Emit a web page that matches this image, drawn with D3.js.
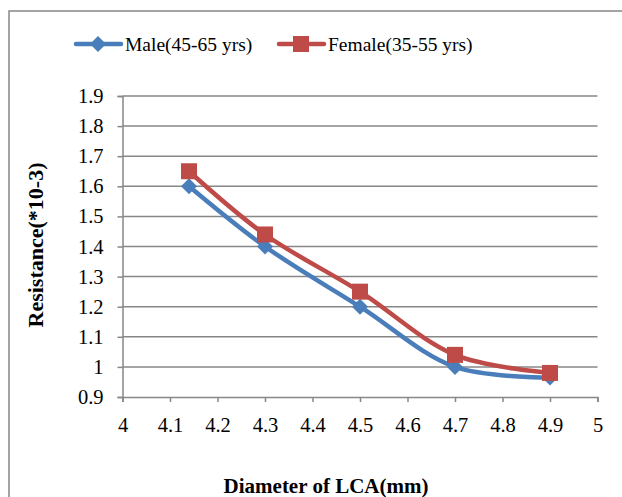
<!DOCTYPE html>
<html>
<head>
<meta charset="utf-8">
<script src="https://cdn.jsdelivr.net/npm/d3@7"></script>
<style>
  body { margin: 0; background: #fff; }
  svg text { font-family: "Liberation Serif", "DejaVu Serif", serif; fill: #000; }
</style>
</head>
<body>
<div id="demo"></div>
<script>
// data
var diameters = [4.14, 4.3, 4.5, 4.7, 4.9];
var maleValues = [1.6, 1.4, 1.2, 1.0, 0.965];
var femaleValues = [1.65, 1.44, 1.25, 1.04, 0.98];
var seriesNames = ['Male(45-65 yrs)', 'Female(35-55 yrs)'];
var xTicks = [4, 4.1, 4.2, 4.3, 4.4, 4.5, 4.6, 4.7, 4.8, 4.9, 5];
var yTicks = [0.9, 1, 1.1, 1.2, 1.3, 1.4, 1.5, 1.6, 1.7, 1.8, 1.9];

var blue = '#4a7ebb', red = '#be4b48', grey = '#878787';

var svg = d3.select('#demo').append('svg')
	.attr('width', 622)
	.attr('height', 497);

// outer chart border
svg.append('rect')
	.attr('x', 9).attr('y', 11)
	.attr('width', 640).attr('height', 520)
	.attr('fill', 'none')
	.attr('stroke', grey)
	.attr('stroke-width', 1.5);

var x = d3.scaleLinear().domain([4, 5]).range([122.5, 597.5]);
var y = d3.scaleLinear().domain([0.9, 1.9]).range([397, 96]);

// horizontal grid lines
svg.append('g')
	.selectAll('line')
	.data(yTicks.slice(1))
	.enter()
	.append('line')
	.attr('x1', x(4)).attr('x2', x(5))
	.attr('y1', function(d) { return y(d); })
	.attr('y2', function(d) { return y(d); })
	.attr('stroke', grey)
	.attr('stroke-width', 1.5);

var fmt = function(d) { return String(+d.toFixed(1)); };

// y axis
var yAxis = svg.append('g')
	.attr('transform', 'translate(' + x(4) + ',0)')
	.call(d3.axisLeft(y).tickValues(yTicks).tickSize(5).tickPadding(14).tickFormat(fmt));

// x axis
var xAxis = svg.append('g')
	.attr('transform', 'translate(0,' + y(0.9) + ')')
	.call(d3.axisBottom(x).tickValues(xTicks).tickSize(5).tickPadding(15).tickFormat(fmt));

[yAxis, xAxis].forEach(function(a) {
	a.attr('font-size', null).attr('font-family', null);
	a.select('.domain').attr('stroke', grey).attr('stroke-width', 1.5);
	a.selectAll('.tick line').attr('stroke', grey).attr('stroke-width', 1.5);
	a.selectAll('.tick text').style('font-size', '20.5px').attr('fill', '#000');
});

// lines
var lineArrToD = d3.line()
	.curve(d3.curveCatmullRom.alpha(0.5))
	.x(function(d) { return x(d[0]); })
	.y(function(d) { return y(d[1]); });

var series = [
	{ name: seriesNames[0], values: maleValues, color: blue, marker: 'diamond' },
	{ name: seriesNames[1], values: femaleValues, color: red, marker: 'square' }
];

function drawMarker(g, kind, cx, cy, color) {
	if (kind === 'square') {
		g.append('rect')
			.attr('x', cx - 8).attr('y', cy - 8)
			.attr('width', 16).attr('height', 16)
			.attr('fill', color);
	} else {
		g.append('path')
			.attr('d', 'M' + cx + ',' + (cy - 8) + 'L' + (cx + 8) + ',' + cy + 'L' + cx + ',' + (cy + 8) + 'L' + (cx - 8) + ',' + cy + 'Z')
			.attr('fill', color);
	}
}

series.forEach(function(s) {
	var pts = diameters.map(function(d, i) { return [d, s.values[i]]; });
	var g = svg.append('g');
	g.append('path')
		.attr('d', lineArrToD(pts))
		.attr('fill', 'none')
		.attr('stroke', s.color)
		.attr('stroke-width', 4.5)
		.attr('stroke-linejoin', 'round');
	pts.forEach(function(p) {
		drawMarker(g, s.marker, x(p[0]), y(p[1]), s.color);
	});
});

// legend
var legendX = [76, 279];
series.forEach(function(s, i) {
	var g = svg.append('g');
	g.append('line')
		.attr('x1', legendX[i]).attr('x2', legendX[i] + 45)
		.attr('y1', 44).attr('y2', 44)
		.attr('stroke', s.color)
		.attr('stroke-width', 4.5)
		.attr('stroke-linecap', 'round');
	drawMarker(g, s.marker, legendX[i] + 22, 44, s.color);
	g.append('text')
		.attr('x', legendX[i] + 49)
		.attr('y', 51)
		.style('font-size', '19.5px')
		.text(s.name);
});

// axis titles
svg.append('text')
	.attr('x', 326).attr('y', 493)
	.attr('text-anchor', 'middle')
	.style('font-size', '21px')
	.style('font-weight', 'bold')
	.text('Diameter of LCA(mm)');

svg.append('text')
	.attr('transform', 'translate(43,245) rotate(-90)')
	.attr('text-anchor', 'middle')
	.style('font-size', '22px')
	.style('font-weight', 'bold')
	.text('Resistance(*10-3)');
</script>
</body>
</html>
